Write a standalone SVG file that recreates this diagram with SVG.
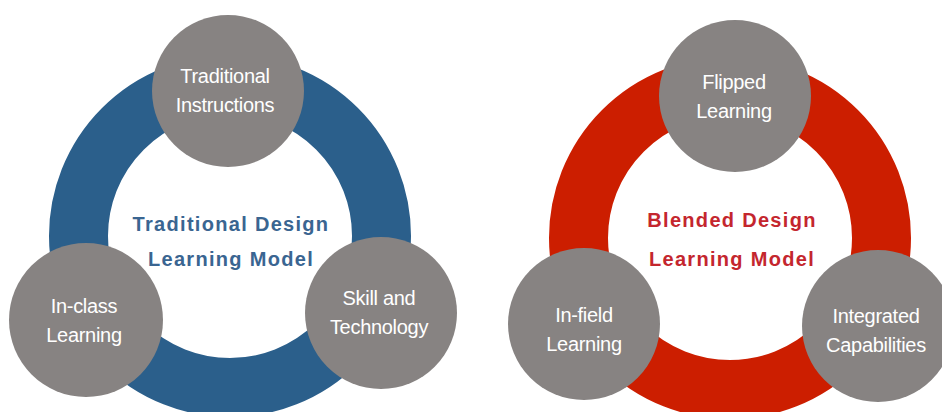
<svg xmlns="http://www.w3.org/2000/svg" width="942" height="412" viewBox="0 0 942 412">
<style>
.ring{fill:none;stroke-width:59}
.node{fill:#878382}
.nt{font-family:"Liberation Sans",Arial,sans-serif;font-size:20px;fill:#ffffff;text-anchor:middle;letter-spacing:-0.3px}
.ct{font-family:"Liberation Sans",Arial,sans-serif;font-size:20px;font-weight:bold;text-anchor:middle;letter-spacing:1.3px}
</style>
<rect width="942" height="412" fill="#ffffff"/>
<g id="connectors">
<circle class="ring" cx="230" cy="236" r="151.5" stroke="#2b5f8b"/>
<circle class="ring" cx="730" cy="238" r="151.5" stroke="#cc1e00"/>
</g>
<g id="traditional-center">
<text class="ct" x="231" y="231" fill="#3a6591">Traditional Design</text>
<text class="ct" x="231" y="266" fill="#3a6591">Learning Model</text>
</g>
<g id="traditional-instructions">
<circle class="node" cx="228" cy="91" r="76"/>
<text class="nt" x="225" y="83">Traditional</text>
<text class="nt" x="225" y="112">Instructions</text>
</g>
<g id="in-class-learning">
<circle class="node" cx="86" cy="320" r="77"/>
<text class="nt" x="84" y="313">In-class</text>
<text class="nt" x="84" y="342">Learning</text>
</g>
<g id="skill-and-technology">
<circle class="node" cx="381" cy="313" r="76"/>
<text class="nt" x="379" y="305">Skill and</text>
<text class="nt" x="379" y="334">Technology</text>
</g>
<g id="blended-center">
<text class="ct" x="732" y="227" fill="#c4262e">Blended Design</text>
<text class="ct" x="732" y="266" fill="#c4262e">Learning Model</text>
</g>
<g id="flipped-learning">
<circle class="node" cx="735" cy="96" r="76"/>
<text class="nt" x="734" y="89">Flipped</text>
<text class="nt" x="734" y="118">Learning</text>
</g>
<g id="in-field-learning">
<circle class="node" cx="584" cy="324" r="76"/>
<text class="nt" x="584" y="322">In-field</text>
<text class="nt" x="584" y="351">Learning</text>
</g>
<g id="integrated-capabilities">
<circle class="node" cx="878" cy="326" r="76"/>
<text class="nt" x="876" y="323">Integrated</text>
<text class="nt" x="876" y="352">Capabilities</text>
</g>
</svg>
